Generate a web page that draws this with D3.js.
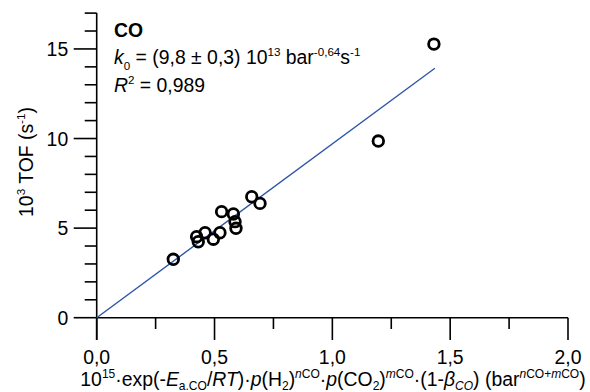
<!DOCTYPE html>
<html><head><meta charset="utf-8">
<script src="https://cdn.jsdelivr.net/npm/d3@7"></script>
<style>
html,body{margin:0;padding:0;background:#fff;}
text{font-family:Arial,"Liberation Sans",sans-serif;fill:#000;}
</style></head>
<body><svg id="c" width="590" height="392"></svg>
<script>
// Data
const xValues = [0.325, 0.424, 0.431, 0.460, 0.495, 0.523, 0.530, 0.580, 0.587, 0.591, 0.658, 0.693, 1.195, 1.431];
const yValues = [3.26, 4.52, 4.24, 4.74, 4.38, 4.74, 5.92, 5.79, 5.36, 4.99, 6.75, 6.38, 9.86, 15.27];
const fitSlope = 9.7;
const fitXRange = [0, 1.435];
const xTickLabels = ["0,0", "0,5", "1,0", "1,5", "2,0"];
const xMajorTicks = [0, 0.5, 1.0, 1.5, 2.0];
const xMinorTicks = [0.25, 0.75, 1.25, 1.75];
const yTickLabels = ["0", "5", "10", "15"];
const yMajorTicks = [0, 5, 10, 15];
const yMinorTicks = [1,2,3,4,6,7,8,9,11,12,13,14,16,17];

const svg = d3.select("#c");
const x = d3.scaleLinear().domain([0, 2]).range([96.7, 568]);
const y = d3.scaleLinear().domain([0, 17]).range([317.7, 13.1]);
const FS = 19.4;

const axisColor = "#000";
svg.append("line").attr("x1", x(0)).attr("x2", x(0)).attr("y1", y(17)).attr("y2", 340)
  .attr("stroke", axisColor).attr("stroke-width", 1.6);
svg.append("line").attr("x1", x(0)).attr("x2", x(2)).attr("y1", y(0)).attr("y2", y(0))
  .attr("stroke", axisColor).attr("stroke-width", 1.6);
svg.selectAll(".ymaj").data(yMajorTicks).enter().append("line")
  .attr("x1", x(0) - 23).attr("x2", x(0)).attr("y1", d => y(d)).attr("y2", d => y(d))
  .attr("stroke", axisColor).attr("stroke-width", 1.6);
svg.selectAll(".ymin").data(yMinorTicks).enter().append("line")
  .attr("x1", x(0) - 12).attr("x2", x(0)).attr("y1", d => y(d)).attr("y2", d => y(d))
  .attr("stroke", axisColor).attr("stroke-width", 1.6);
svg.selectAll(".ylab").data(yMajorTicks).enter().append("text")
  .attr("x", x(0) - 28.5).attr("y", d => y(d)).attr("dy", "0.36em")
  .attr("text-anchor", "end").attr("font-size", FS).text((d, i) => yTickLabels[i]);
svg.selectAll(".xmaj").data(xMajorTicks).enter().append("line")
  .attr("x1", d => x(d)).attr("x2", d => x(d)).attr("y1", y(0)).attr("y2", 340)
  .attr("stroke", axisColor).attr("stroke-width", 1.6);
svg.selectAll(".xmin").data(xMinorTicks).enter().append("line")
  .attr("x1", d => x(d)).attr("x2", d => x(d)).attr("y1", y(0)).attr("y2", 329)
  .attr("stroke", axisColor).attr("stroke-width", 1.6);
svg.selectAll(".xlab").data(xMajorTicks).enter().append("text")
  .attr("x", d => x(d)).attr("y", 363.5)
  .attr("text-anchor", "middle").attr("font-size", FS).text((d, i) => xTickLabels[i]);

// fit line
svg.append("line")
  .attr("x1", x(fitXRange[0])).attr("y1", y(fitSlope * fitXRange[0]))
  .attr("x2", x(fitXRange[1])).attr("y2", y(fitSlope * fitXRange[1]))
  .attr("stroke", "#2f55a8").attr("stroke-width", 1.4);

// points
svg.selectAll(".pt").data(xValues).enter().append("circle")
  .attr("cx", d => x(d)).attr("cy", (d, i) => y(yValues[i])).attr("r", 5.3)
  .attr("fill", "none").attr("stroke", "#000").attr("stroke-width", 2.8);

function rich(sel, parts, base, supK, subOff) {
  supK = supK || 0.6; subOff = subOff == null ? 0.3 : subOff;
  let cur = 0;
  parts.forEach(p => {
    let off = 0, fs = base;
    if (p.sup) { off = -0.42 * base; fs = base * supK; }
    if (p.sub) { off = subOff * base; fs = base * supK; }
    const ts = sel.append("tspan").attr("font-size", fs).text(p.t);
    if (off - cur !== 0) ts.attr("dy", off - cur);
    if (p.i) ts.attr("font-style", "italic");
    if (p.b) ts.attr("font-weight", "bold");
    cur = off;
  });
}

// annotation
svg.append("text").attr("x", 114).attr("y", 37).attr("font-size", FS).attr("font-weight", "bold").text("CO");
rich(svg.append("text").attr("x", 114).attr("y", 64).attr("font-size", FS), [
  {t: "k", i: true}, {t: "0", sub: true}, {t: " = (9,8 ± 0,3) 10"}, {t: "13", sup: true},
  {t: " bar"}, {t: "-0,64", sup: true}, {t: "s"}, {t: "-1", sup: true}
], FS);
rich(svg.append("text").attr("x", 114).attr("y", 92).attr("font-size", FS), [
  {t: "R", i: true}, {t: "2", sup: true}, {t: " = 0,989"}
], FS);

// x title
rich(svg.append("text").attr("x", 333).attr("y", 386).attr("text-anchor", "middle").attr("font-size", FS), [
  {t: "10"}, {t: "15", sup: true}, {t: "·exp(-"}, {t: "E", i: true}, {t: "a.CO", sub: true},
  {t: "/"}, {t: "RT", i: true}, {t: ")·"}, {t: "p", i: true}, {t: "(H"}, {t: "2", sub: true},
  {t: ")"}, {t: "n", sup: true, i: true}, {t: "CO", sup: true}, {t: "·"}, {t: "p", i: true}, {t: "(CO"}, {t: "2", sub: true},
  {t: ")"}, {t: "m", sup: true, i: true}, {t: "CO", sup: true}, {t: "·(1-"}, {t: "β", i: true}, {t: "CO", sub: true, i: true},
  {t: ") (bar"}, {t: "n", sup: true, i: true}, {t: "CO+", sup: true}, {t: "m", sup: true, i: true}, {t: "CO", sup: true}, {t: ")"}
], FS, 0.62, 0.2);

// y title
const yt = svg.append("text").attr("transform", "translate(33,162) rotate(-90)")
  .attr("text-anchor", "middle").attr("font-size", FS);
rich(yt, [{t: "10"}, {t: "3", sup: true}, {t: " TOF (s"}, {t: "-1", sup: true}, {t: ")"}], FS);
</script></body></html>
